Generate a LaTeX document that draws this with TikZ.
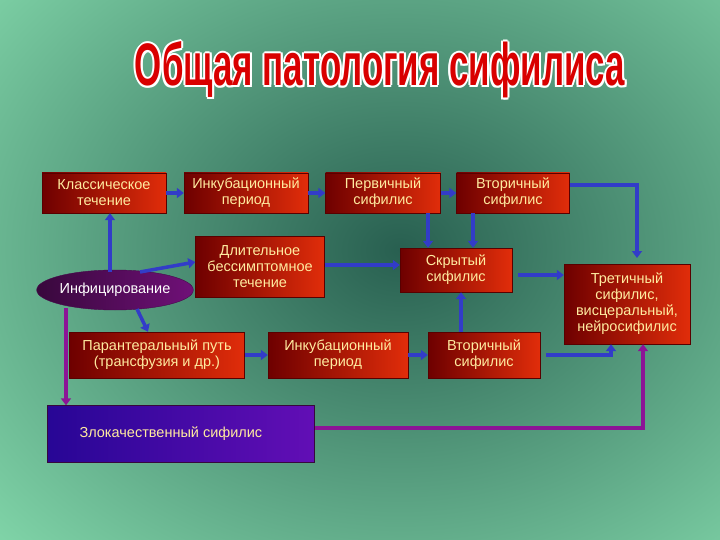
\documentclass[tikz,border=0pt]{standalone}
\usepackage{fontspec}
\setmainfont{Liberation Sans}
\usetikzlibrary{arrows.meta,shapes.geometric}
\definecolor{bgl}{RGB}{130,215,170}
\definecolor{bgd}{RGB}{40,95,80}
\definecolor{txt}{RGB}{255,235,160}
\definecolor{arr}{RGB}{50,60,200}
\definecolor{purp}{RGB}{140,20,150}
\definecolor{rdark}{RGB}{110,0,0}
\definecolor{rbright}{RGB}{225,45,10}
\tikzset{
 box/.style={draw=rdark!80!black,line width=0.4pt,left color=rdark,right color=rbright,text=txt,align=center,inner sep=1pt,font=\fontsize{14.5}{16}\selectfont},
 ar/.style={draw=arr,line width=3.5pt,-{Triangle[length=7pt,width=10pt]}},
 pa/.style={draw=purp,line width=3.5pt,-{Triangle[length=7pt,width=10pt]}},
}
\begin{document}
\begin{tikzpicture}[x=1pt,y=-1pt]
\fill[bgl] (0,0) rectangle (720,540);
\begin{scope}
\clip (0,0) rectangle (720,540);
\shade[inner color=bgd,outer color=bgl] (400,250) ellipse (560 and 440);
\end{scope}
\useasboundingbox (0,0) rectangle (720,540);
% title
\foreach \dx/\dy in {-2/0,2/0,0/-2,0/2,-1.5/-1.5,1.5/1.5,-1.5/1.5,1.5/-1.5}
 \node[text=white] at (380+\dx,70+\dy) {\resizebox{490pt}{44pt}{\bfseries Общая патология сифилиса}};
\node[text=red!85!black] (title) at (380,70) {\resizebox{490pt}{44pt}{\bfseries Общая патология сифилиса}};
% boxes
\node[box,minimum width=124,minimum height=40] (klass) at (104,193) {Классическое\\течение};
\node[box,minimum width=124,minimum height=40] (inc1) at (246,193) {Инкубационный\\период};
\node[box,minimum width=115,minimum height=40] (perv) at (383,193) {Первичный\\сифилис};
\node[box,minimum width=113,minimum height=40] (vtor1) at (513,193) {Вторичный\\сифилис};
\node[box,minimum width=129,minimum height=61] (dlit) at (260,267) {Длительное\\бессимптомное\\течение};
\node[box,minimum width=112,minimum height=44] (skr) at (456,270) {Скрытый\\сифилис};
\node[box,minimum width=126,minimum height=80] (tret) at (627,304) {Третичный\\сифилис,\\висцеральный,\\нейросифилис};
\node[draw=purp!50!black,ellipse,left color=purp!40!black,right color=purp!80!black,text=white,minimum width=135,minimum height=40,inner sep=0pt,font=\fontsize{14.5}{16}\selectfont] (inf) at (115,290) {Инфицирование};
\node[box,minimum width=175,minimum height=46] (par) at (157,355) {Парантеральный путь\\(трансфузия и др.)};
\node[box,minimum width=140,minimum height=46] (inc2) at (338,355) {Инкубационный\\период};
\node[box,minimum width=112,minimum height=46] (vtor2) at (484,355) {Вторичный\\сифилис};
\node[draw=purp!40!black,left color=purp!40!blue!70!black,right color=purp!70!blue,minimum width=267,minimum height=57,inner sep=0pt] (zlo) at (181,434) {};
\node[text=txt,anchor=west,font=\fontsize{14.5}{16}\selectfont] (zlot) at (76,434) {Злокачественный сифилис};
% arrows
\draw[ar] (110,272) -- (klass.south -| 110,0);
\draw[ar] (140,272) -- (dlit.west |- 0,262);
\draw[ar] (137,309) -- (par.north -| 148,0);
\draw[pa] (66,308) -- (zlo.north -| 66,0);
\draw[ar] (klass) -- (inc1);
\draw[ar] (inc1) -- (perv);
\draw[ar] (perv) -- (vtor1);
\draw[ar] (perv.south -| 428,0) -- (skr.north -| 428,0);
\draw[ar] (vtor1.south -| 473,0) -- (skr.north -| 473,0);
\draw[ar] (dlit.east |- 0,265) -- (skr.west |- 0,265);
\draw[ar] (518,275) -- (tret.west |- 0,275);
\draw[ar] (vtor1.east |- 0,185) -| (637,258);
\draw[ar] (vtor2.north -| 461,0) -- (skr.south -| 461,0);
\draw[ar] (par) -- (inc2);
\draw[ar] (inc2) -- (vtor2);
\draw[ar] (546,355) -| (tret.south -| 611,0);
\draw[pa] (zlo.east |- 0,428) -| (tret.south -| 643,0);
\end{tikzpicture}
\end{document}
